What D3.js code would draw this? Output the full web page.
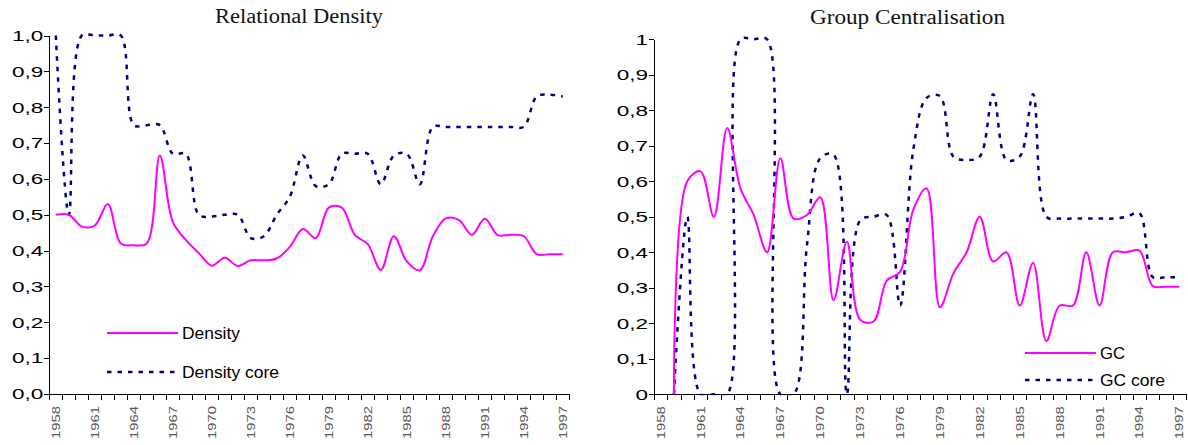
<!DOCTYPE html>
<html><head><meta charset="utf-8">
<style>
body{margin:0;background:#fff}
svg{display:block;background:#fff}
.title{font-family:'Liberation Serif',serif;font-size:20px;fill:#111}
.axis text{font-family:'Liberation Sans',Arial,sans-serif;fill:#000}
.axis path,.axis line{stroke:#000;stroke-width:1;shape-rendering:crispEdges}
.xlab text{fill:#555}
.legend text{font-family:'Liberation Sans',Arial,sans-serif;font-size:16px;fill:#000}
</style>
<script src="https://cdn.jsdelivr.net/npm/d3@7"></script>
</head><body>
<svg id="chart" width="1188" height="445"></svg>
<script>
// categories
var years=[1958,1959,1960,1961,1962,1963,1964,1965,1966,1967,
           1968,1969,1970,1971,1972,1973,1974,1975,1976,1977,
           1978,1979,1980,1981,1982,1983,1984,1985,1986,1987,
           1988,1989,1990,1991,1992,1993,1994,1995,1996,1997];
var yearLabels=[1958,1961,1964,1967,1970,1973,1976,1979,1982,1985,1988,1991,1994,1997];

// Relational Density
var density=[0.5,0.5,0.467,0.47,0.53,0.42,0.415,0.42,0.665,0.48,
             0.43,0.393,0.358,0.38,0.357,0.373,0.373,0.378,0.41,0.46,
             0.435,0.52,0.52,0.444,0.418,0.346,0.44,0.37,0.345,0.44,
             0.49,0.486,0.444,0.489,0.443,0.444,0.44,0.39,0.39,0.39];
var densityCore=[1,0.5,1,1,1,1,0.75,0.75,0.75,0.67,
                 0.67,0.5,0.495,0.5,0.5,0.435,0.44,0.5,0.55,0.665,
                 0.58,0.585,0.67,0.67,0.67,0.585,0.665,0.67,0.585,0.745,
                 0.745,0.745,0.745,0.745,0.745,0.745,0.745,0.83,0.835,0.83];

// Group Centralisation
var gc=[null,0,0.6,0.628,0.5,0.75,0.58,0.505,0.4,0.665,
        0.495,0.505,0.555,0.265,0.43,0.21,0.205,0.32,0.345,0.52,
        0.58,0.245,0.34,0.4,0.5,0.374,0.4,0.25,0.37,0.15,
        0.25,0.25,0.4,0.25,0.4,0.4,0.405,0.305,0.303,0.303];
var gcCore=[null,0,0.5,0,0,0,1,1,1,0,
            0,0.42,0.665,0.675,0,0.49,0.5,0.505,0.25,0.69,
            0.835,0.84,0.67,0.66,0.67,0.845,0.66,0.67,0.845,0.5,
            0.495,0.495,0.495,0.495,0.495,0.5,0.51,0.33,0.33,0.33];

var yTicks=[0,0.1,0.2,0.3,0.4,0.5,0.6,0.7,0.8,0.9,1];
var yLabelsLeft=['0,0','0,1','0,2','0,3','0,4','0,5','0,6','0,7','0,8','0,9','1,0'];
var yLabelsRight=['0','0,1','0,2','0,3','0,4','0,5','0,6','0,7','0,8','0,9','1'];

var svg=d3.select('#chart');

function stretch(sel,k){
  sel.each(function(){
    var w=this.getComputedTextLength();
    d3.select(this).attr('textLength',w*k).attr('lengthAdjust','spacingAndGlyphs');
  });
}

function panel(p){
  var xb=d3.scaleBand().domain(years).range([p.x0,p.x1]);
  var xt=d3.scaleLinear().domain([0,years.length]).range([p.x0,p.x1]);
  var y=d3.scaleLinear().domain([0,1]).range([p.yb,p.yt]);
  var g=svg.append('g');

  g.append('text').attr('class','title')
   .attr('x',p.tx).attr('y',p.ty).attr('text-anchor','middle')
   .attr('textLength',p.tw).attr('lengthAdjust','spacingAndGlyphs')
   .text(p.title);

  // x ticks at category boundaries
  g.append('g').attr('class','axis').attr('transform','translate(0,'+p.yb+')')
   .call(d3.axisBottom(xt).tickValues(d3.range(years.length+1)).tickFormat('')
         .tickSize(6).tickSizeOuter(0));
  // x labels every third year
  var xl=g.append('g').attr('class','axis xlab').attr('transform','translate(0,'+p.yb+')')
   .call(d3.axisBottom(xb).tickValues(yearLabels).tickSize(0));
  xl.select('.domain').remove();
  xl.selectAll('text').attr('transform','rotate(-90)')
    .attr('x',-12).attr('y',0).attr('dy','0.36em')
    .style('text-anchor','end').style('font-size','11px');
  stretch(xl.selectAll('text'),1.35);

  var ya=g.append('g').attr('class','axis').attr('transform','translate('+p.x0+',0)')
   .call(d3.axisLeft(y).tickValues(yTicks).tickSize(5).tickSizeOuter(0).tickPadding(1)
         .tickFormat(function(d,i){return p.yLabels[i];}));
  ya.selectAll('text').style('font-size','15px');
  stretch(ya.selectAll('text'),1.5);

  var cid='clip'+p.id;
  g.append('clipPath').attr('id',cid).append('rect')
   .attr('x',p.x0).attr('y',p.yt-4).attr('width',p.x1-p.x0+4).attr('height',p.yb-p.yt+5);

  var line=d3.line()
    .defined(function(d){return d!=null;})
    .x(function(d,i){return xb(years[i])+xb.bandwidth()/2;})
    .y(function(d){return y(d);})
    .curve(d3.curveCatmullRom.alpha(0.5));

  var plot=g.append('g').attr('clip-path','url(#'+cid+')');
  plot.append('path').datum(p.core).attr('d',line)
    .attr('fill','none').attr('stroke','#000080').attr('stroke-width',2.5)
    .attr('stroke-dasharray','4.5,6');
  plot.append('path').datum(p.main).attr('d',line)
    .attr('fill','none').attr('stroke','#ff00ff').attr('stroke-width',2);

  var lg=g.append('g').attr('class','legend');
  lg.append('line').attr('x1',p.lx).attr('x2',p.lx+71).attr('y1',p.ly1).attr('y2',p.ly1)
    .attr('stroke','#ff00ff').attr('stroke-width',2);
  lg.append('text').attr('x',p.lx+75).attr('y',p.ly1+5.5)
    .attr('textLength',p.lw1).attr('lengthAdjust','spacingAndGlyphs').text(p.names[0]);
  lg.append('line').attr('x1',p.lx).attr('x2',p.lx+71).attr('y1',p.ly2).attr('y2',p.ly2)
    .attr('stroke','#000080').attr('stroke-width',2.5).attr('stroke-dasharray','4.5,6');
  lg.append('text').attr('x',p.lx+75).attr('y',p.ly2+5.5)
    .attr('textLength',p.lw2).attr('lengthAdjust','spacingAndGlyphs').text(p.names[1]);
}

panel({id:1,x0:49.3,x1:569.3,yb:394,yt:35.5,title:'Relational Density',tx:299,ty:23,tw:168,
       yLabels:yLabelsLeft,main:density,core:densityCore,
       names:['Density','Density core'],lx:107,ly1:333,ly2:372,lw1:58,lw2:97});
panel({id:2,x0:654,x1:1186,yb:394.3,yt:39.3,title:'Group Centralisation',tx:907.5,ty:24,tw:195,
       yLabels:yLabelsRight,main:gc,core:gcCore,
       names:['GC','GC core'],lx:1025,ly1:353,ly2:380,lw1:25,lw2:65});
</script>
</body></html>
